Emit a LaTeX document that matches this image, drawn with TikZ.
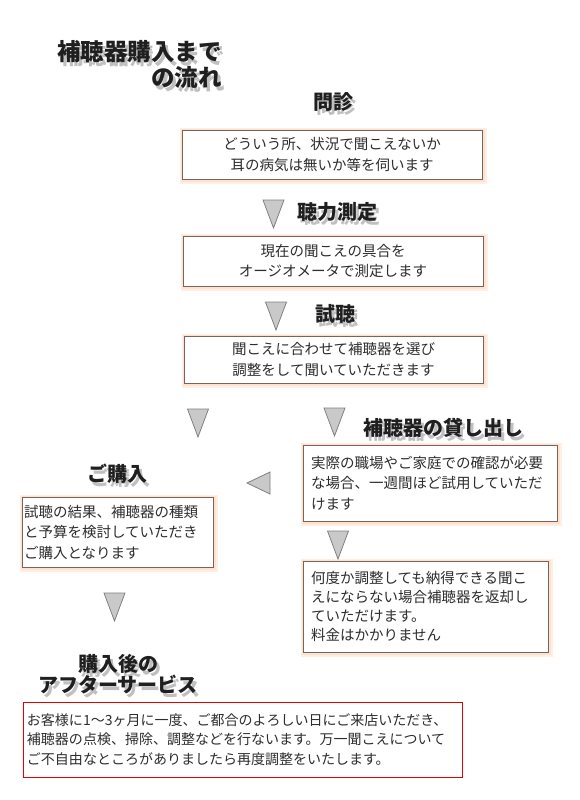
\documentclass[tikz,border=0pt]{standalone}
\usepackage{fontspec}
\newfontfamily\cjk{Noto Sans CJK JP}
\definecolor{boxline}{RGB}{120,100,90}
\definecolor{glowc}{RGB}{253,226,208}
\definecolor{trifill}{RGB}{201,201,201}
\definecolor{triline}{RGB}{128,128,128}
\definecolor{redline}{RGB}{230,0,0}
\definecolor{bodytext}{RGB}{45,45,45}
\tikzset{
  head/.style={font=\cjk\bfseries\fontsize{20}{21}\selectfont, text=black!88, inner sep=0pt, align=center},
  headsh/.style={head, text=black!55, opacity=0.45},
  flowbox/.style={draw=boxline, line width=0.9pt, fill=white, inner ysep=0pt,
    font=\cjk\fontsize{14.5}{20.5}\selectfont, text=bodytext,
    preaction={draw=glowc, line width=7pt, opacity=0.6, transform canvas={shift={(1.2pt,-1.2pt)}}},
    preaction={draw=glowc, line width=3.5pt, transform canvas={shift={(1pt,-1pt)}}}},
  redbox/.style={draw=redline, line width=1pt, fill=white, inner ysep=0pt,
    font=\cjk\fontsize{14}{19.5}\selectfont, text=bodytext},
  tri/.style={fill=trifill, draw=triline, line width=0.8pt, line join=miter},
  downtri/.pic={\draw[tri] (-10.5,0) -- (10.5,0) -- (0,28) -- cycle;},
  lefttri/.pic={\draw[tri] (0,0) -- (23,-11) -- (23,11) -- cycle;}
}
\begin{document}
\begin{tikzpicture}[x=1pt,y=-1pt]
\useasboundingbox (0,0) rectangle (580,800);

% title
\node[headsh, font=\cjk\bfseries\fontsize{23.5}{26}\selectfont, align=right, anchor=east] (titles) at (225,69) {補聴器購入まで\\の流れ};
\node[head, font=\cjk\bfseries\fontsize{23.5}{26}\selectfont, align=right, anchor=east] (title) at (222,65) {補聴器購入まで\\の流れ};

% headings
\node[headsh] (h1s) at (336,106) {問診};
\node[head] (h1) at (333,102) {問診};
\node[headsh] (h2s) at (340,216) {聴力測定};
\node[head] (h2) at (337,212) {聴力測定};
\node[headsh] (h3s) at (338,318) {試聴};
\node[head] (h3) at (335,314) {試聴};
\node[headsh] (h4s) at (446,432) {補聴器の貸し出し};
\node[head] (h4) at (443,428) {補聴器の貸し出し};
\node[headsh] (h5s) at (120,478) {ご購入};
\node[head] (h5) at (117,474) {ご購入};
\node[headsh] (h6s) at (121,678) {購入後の\\アフターサービス};
\node[head] (h6) at (118,674) {購入後の\\アフターサービス};

% boxes
\node[flowbox, minimum width=300pt, minimum height=49pt, align=center] (b1) at (332,154.5)
  {どういう所、状況で聞こえないか\\耳の病気は無いか等を伺います};
\node[flowbox, minimum width=300pt, minimum height=50pt, align=center] (b2) at (333,261)
  {現在の聞こえの具合を\\オージオメータで測定します};
\node[flowbox, minimum width=299pt, minimum height=47pt, align=center] (b3) at (333.5,359.5)
  {聞こえに合わせて補聴器を選び\\調整をして聞いていただきます};
\node[flowbox, text width=238pt, inner xsep=8pt, minimum height=76pt, align=left] (b4) at (430,483)
  {実際の職場やご家庭での確認が必要\\な場合、一週間ほど試用していただ\\けます};
\node[flowbox, text width=187pt, inner xsep=2pt, minimum height=70pt, align=left] (b5) at (117.5,532)
  {試聴の結果、補聴器の種類\\と予算を検討していただき\\ご購入となります};
\node[flowbox, text width=229pt, inner xsep=8pt, minimum height=91pt, align=left, font=\cjk\fontsize{14.5}{19}\selectfont] (b6) at (425.5,606.5)
  {何度か調整しても納得できる聞こ\\えにならない場合補聴器を返却し\\ていただけます。\\料金はかかりません};
\node[redbox, text width=431pt, inner xsep=4pt, minimum height=75pt, align=left] (b7) at (242.5,739.5)
  {お客様に1〜3ヶ月に一度、ご都合のよろしい日にご来店いただき、\\補聴器の点検、掃除、調整などを行ないます。万一聞こえについて\\ご不自由なところがありましたら再度調整をいたします。};

% triangles
\pic at (273.5,200) {downtri};
\pic at (276,302) {downtri};
\pic at (198,409) {downtri};
\pic at (334.5,408) {downtri};
\pic at (338,531) {downtri};
\pic at (114.5,593) {downtri};
\pic at (247,483) {lefttri};
\end{tikzpicture}
\end{document}
